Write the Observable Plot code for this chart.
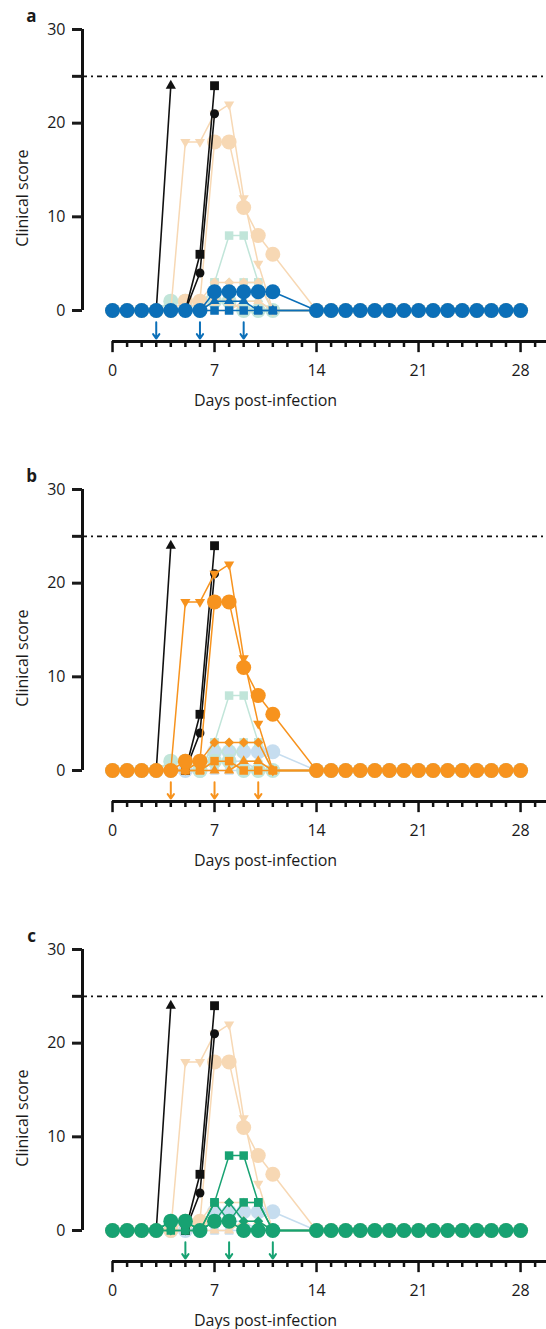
<!DOCTYPE html>
<html><head><meta charset="utf-8">
<script src="https://cdn.jsdelivr.net/npm/d3@7"></script>
<script src="https://cdn.jsdelivr.net/npm/@observablehq/plot@0.6"></script>
<style>
html,body{margin:0;padding:0;background:#fff;}
#chart svg{display:block;}
</style></head><body><div id="chart"></div>
<script>
// ---- data ----
const days = [0,1,2,3,4,5,6,7,8,9,10,11,14,15,16,17,18,19,20,21,22,23,24,25,26,27,28];

// group a (blue)
const blueSquare   = [0,0,0,0,0,0,0,0,0,0,0,0, 0,0,0,0,0,0,0,0,0,0,0,0,0,0,0];
const blueTriangle = [0,0,0,0,0,0,0,1,1,1,0,0, 0,0,0,0,0,0,0,0,0,0,0,0,0,0,0];
const blueCircle   = [0,0,0,0,0,0,0,2,2,2,2,2, 0,0,0,0,0,0,0,0,0,0,0,0,0,0,0];

// group b (orange)
const orangeSquare  = [0,0,0,0,0,0,0,1,1,0,0,0, 0,0,0,0,0,0,0,0,0,0,0,0,0,0,0];
const orangeUp      = [0,0,0,0,0,0,0,0,0,1,1,0, 0,0,0,0,0,0,0,0,0,0,0,0,0,0,0];
const orangeDiamond = [0,0,0,0,0,0,1,3,3,3,3,0, 0,0,0,0,0,0,0,0,0,0,0,0,0,0,0];
const orangeDown    = [0,0,0,0,0,18,18,21,22,12,5,0, 0,0,0,0,0,0,0,0,0,0,0,0,0,0,0];
const orangeCircle  = [0,0,0,0,0,1,1,18,18,11,8,6, 0,0,0,0,0,0,0,0,0,0,0,0,0,0,0];

// group c (green)
const greenDiamond = [0,0,0,0,0,0,0,1,3,1,1,0, 0,0,0,0,0,0,0,0,0,0,0,0,0,0,0];
const greenSquare2 = [0,0,0,0,1,1,0,3,1,3,3,0, 0,0,0,0,0,0,0,0,0,0,0,0,0,0,0];
const greenSquare  = [0,0,0,0,0,0,0,3,8,8,3,0, 0,0,0,0,0,0,0,0,0,0,0,0,0,0,0];
const greenCircle  = [0,0,0,0,1,1,0,1,1,0,0,0, 0,0,0,0,0,0,0,0,0,0,0,0,0,0,0];

// lethal animals (black)
const blackTriDays = [3,4];   const blackTri = [0,24];
const blackSqDays = [5,6,7];  const blackSq = [0,6,24];
const blackCircDays = [5,6,7];const blackCirc = [0,4,21];

// treatment arrows
const arrowsA = [3,6,9];
const arrowsB = [4,7,10];
const arrowsC = [5,8,11];

const threshold = 25;
const yTicks = [0,10,20,25,30];
const dayTicks = [0,1,2,3,4,5,6,7,8,9,10,11,12,13,14,15,16,17,18,19,20,21,22,23,24,25,26,27,28,29];
const majorTicks = [0,7,14,21,28];
const panelLabels = ["a","b","c"];
const xTitle = "Days post-infection";
const yTitle = "Clinical score";

// ---- styling ----
const palette = {
  blue:   {hi: "#0b6fb8", lo: "#c6ddef"},
  orange: {hi: "#f7931e", lo: "#f7d8b4"},
  green:  {hi: "#17a272", lo: "#c1e5d9"}
};
const shapes = {
  circle:   {symbol: "circle",   r: 7.5},
  square:   {symbol: "square",   r: 4.8},
  triangle: {symbol: "triangle", r: 3.8, rotate: 0},
  down:     {symbol: "triangle", r: 3.8, rotate: 180},
  diamond:  {symbol: "diamond2", r: 4.5}
};
const blackShapes = {
  circle:   {symbol: "circle",   r: 4.5},
  square:   {symbol: "square",   r: 5},
  triangle: {symbol: "triangle", r: 3.8, rotate: 0}
};
const groups = {
  blue: [{s: "square", v: blueSquare}, {s: "triangle", v: blueTriangle}, {s: "circle", v: blueCircle}],
  orange: [{s: "square", v: orangeSquare}, {s: "triangle", v: orangeUp}, {s: "diamond", v: orangeDiamond}, {s: "down", v: orangeDown}, {s: "circle", v: orangeCircle}],
  green: [{s: "diamond", v: greenDiamond}, {s: "square", v: greenSquare2}, {s: "square", v: greenSquare}, {s: "circle", v: greenCircle}]
};
const blackGroup = [
  {s: "triangle", d: blackTriDays, v: blackTri},
  {s: "square", d: blackSqDays, v: blackSq},
  {s: "circle", d: blackCircDays, v: blackCirc}
];
const panels = [
  {label: panelLabels[0], hi: "blue",   arrows: arrowsA, height: 460},
  {label: panelLabels[1], hi: "orange", arrows: arrowsB, height: 460},
  {label: panelLabels[2], hi: "green",  arrows: arrowsC, height: 409}
];
const xDomain = [-2.06, 29.78];
const axisLineY = -3.31, minorEnd = -3.95, majorEnd = -4.5;
const FS = 16;

function seriesMarks(dd, vv, spec, color, lw) {
  const data = dd.map((d, i) => ({day: d, score: vv[i]}));
  return {
    line: Plot.line(data, {x: "day", y: "score", stroke: color, strokeWidth: lw}),
    dot: Plot.dot(data, {x: "day", y: "score", symbol: spec.symbol, r: spec.r, rotate: spec.rotate || 0, fill: color, stroke: "none"})
  };
}
function groupMarks(name, color) {
  const ms = groups[name].map(g => seriesMarks(days, g.v, shapes[g.s], color, 1.5));
  return [...ms.map(m => m.line), ...ms.map(m => m.dot)];
}
function blackMarks() {
  const ms = blackGroup.map(g => seriesMarks(g.d, g.v, blackShapes[g.s], "#111", 1.6));
  return [...ms.map(m => m.line), ...ms.map(m => m.dot)];
}

const chart = document.getElementById("chart");
for (const p of panels) {
  const faded = ["blue", "green", "orange"].filter(n => n !== p.hi);
  const col = palette[p.hi].hi;
  const marks = [
    Plot.ruleY([threshold], {stroke: "#111", strokeWidth: 1.6, strokeDasharray: "5,4,2,4"}),
    ...faded.flatMap(n => groupMarks(n, palette[n].lo)),
    ...blackMarks(),
    ...groupMarks(p.hi, col),
    Plot.arrow(p.arrows, {x: d => d, y1: -1.25, y2: -3.0, stroke: col, strokeWidth: 2, headLength: 7, headAngle: 70}),
    // y axis
    Plot.ruleX([xDomain[0]], {y1: 0, y2: 30, stroke: "#111", strokeWidth: 3}),
    Plot.axisY(yTicks, {tickSize: 10, tickPadding: 7, strokeWidth: 3, tickFormat: d => d === 25 ? "" : String(d), label: null, fontSize: FS}),
    // x axis (offset below the plot)
    Plot.ruleY([axisLineY], {x1: 0, x2: xDomain[1], stroke: "#111", strokeWidth: 3}),
    Plot.ruleX(dayTicks, {x: d => d, y1: axisLineY, y2: d => d % 7 === 0 ? majorEnd : minorEnd, stroke: "#111", strokeWidth: 2.5}),
    Plot.text(majorTicks, {x: d => d, y: -6.4, text: d => String(d), fontSize: FS, fill: "#1a1a1a"}),
    Plot.text([xTitle], {x: 10.5, y: -9.6, text: d => d, fontSize: FS, fill: "#1a1a1a"}),
    Plot.text([yTitle], {frameAnchor: "left", y: 12, dx: -60, rotate: -90, textAnchor: "middle", lineAnchor: "middle", text: d => d, fontSize: FS, fill: "#1a1a1a"}),
    Plot.text([p.label], {frameAnchor: "top-left", dx: -51, dy: -13, textAnchor: "middle", lineAnchor: "middle", text: d => d, fontSize: 17, fontWeight: "bold", fill: "#1a1a1a"})
  ];
  const svg = Plot.plot({
    width: 546,
    height: p.height,
    marginLeft: 82,
    marginRight: 0,
    marginTop: 29,
    marginBottom: p.height - 310,
    x: {domain: xDomain, axis: null},
    y: {domain: [0, 30], label: null},
    style: {fontFamily: '"Open Sans", sans-serif', fontSize: FS + "px", color: "#1a1a1a", background: "white", overflow: "visible"},
    marks
  });
  chart.appendChild(svg);
}
</script>
</body></html>
